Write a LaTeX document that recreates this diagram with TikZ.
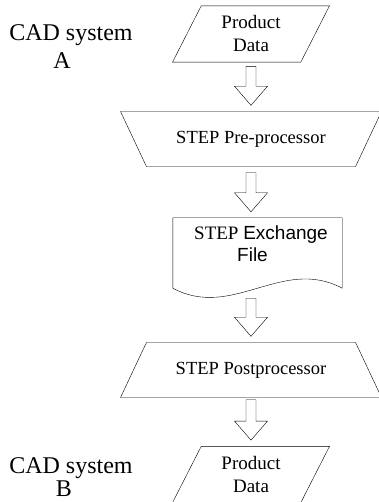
\documentclass[tikz,border=0pt]{standalone}
\usepackage{fontspec}
\setmainfont{Liberation Serif}
\setsansfont{Liberation Sans}
\usetikzlibrary{shapes.geometric, calc}
\tikzset{
    every node/.style={font=\fontsize{19pt}{23pt}\selectfont}, % text inside the boxes
    line width=0.8pt, % thin outlines everywhere
    flowarrow/.style={to path={
        let \p1=(\tikztostart.south -| pdA), \p2=(\tikztotarget.north) in
        (\x1-5pt,\y1-#1) -- (\x1-5pt,\y2+25pt) -- (\x1-16.5pt,\y2+25pt) -- (\x1,\y2+6pt)
        -- (\x1+16.5pt,\y2+25pt) -- (\x1+5pt,\y2+25pt) -- (\x1+5pt,\y1-#1) -- cycle}}, % hollow block arrow, stays on the main column
    flowarrow/.default=4pt, % gap below the box the arrow leaves
}

\begin{document}
\begin{tikzpicture}[
                        databox/.style={draw, trapezium, trapezium left angle=63, trapezium right angle=117,
                            trapezium stretches body, minimum width=157pt, minimum height=56pt, align=center,
                            inner xsep=0pt, inner ysep=10pt},
                        procbox/.style={draw, trapezium, trapezium left angle=64, trapezium right angle=64,
                            trapezium stretches body, minimum width=261pt, minimum height=55pt,
                            inner xsep=0pt, inner ysep=18.5pt, font=\fontsize{18.5pt}{22pt}\selectfont},
                        docbox/.style={minimum width=169pt, minimum height=70pt, align=center, text depth=18pt,
                            inner sep=0pt, font=\fontsize{19pt}{22pt}\selectfont},
                        syslabel/.style={align=center, font=\fontsize{24pt}{28pt}\selectfont},
                    ]
                    \useasboundingbox (0,0) rectangle (379pt,-502pt);

                    \node[databox] (pdA) at (251pt,-34pt) {Product\\Data};
                    \node[procbox, shape border rotate=180, below of=pdA, node distance=105pt] (pre) {STEP Pre-processor};
                    \node[docbox, below of=pre, node distance=114pt, xshift=6.5pt] (xfile)
                        {\hspace*{7pt}STEP \sffamily Exchange\\\sffamily File\hspace*{10pt}};
                    \node[procbox, below of=xfile, node distance=117pt, xshift=-6.5pt] (post) {STEP Postprocessor};
                    \node[databox, below of=post, node distance=104.5pt] (pdB) {Product\\Data};

                    \node[syslabel, left of=pdA, node distance=180pt, yshift=-13pt] (sysA) {CAD system\\A\hspace*{18pt}};
                    \node[syslabel, left of=pdB, node distance=180pt, yshift=-3pt,
                        font=\fontsize{24pt}{23pt}\selectfont] (sysB) {CAD system\\B\hspace*{14pt}};

                    % document outline with the wavy lower edge
                    \draw (xfile.south west) |- (xfile.north east) -- (xfile.south east)
                        .. controls +(-60pt,32pt) and +(60pt,-32pt) .. (xfile.south west);

                    \draw
                    (pdA) edge[flowarrow] (pre)
                    (pre) edge[flowarrow=6pt] (xfile)
                    (xfile) edge[flowarrow=10pt] (post)
                    (post) edge[flowarrow=2pt] (pdB);
                \end{tikzpicture}
\end{document}
